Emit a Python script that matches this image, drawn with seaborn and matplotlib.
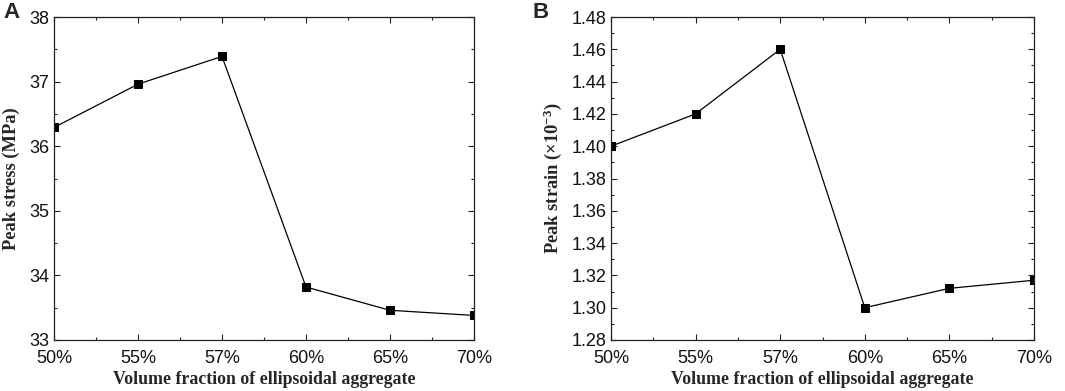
import matplotlib
matplotlib.use("Agg")
import matplotlib.pyplot as plt
import seaborn as sns
import pandas as pd
from matplotlib.ticker import MultipleLocator, FixedLocator

# ---- data ----
fractions = ["50%", "55%", "57%", "60%", "65%", "70%"]
peak_stress = [36.29, 36.96, 37.39, 33.82, 33.46, 33.38]
peak_strain = [1.400, 1.420, 1.460, 1.300, 1.312, 1.317]

xlabel = "Volume fraction of ellipsoidal aggregate"
ylabel_a = "Peak stress (MPa)"
ylabel_b = "Peak strain (×10$^{-3}$)"

sns.set_style("ticks")
plt.rcParams["font.family"] = ["Liberation Sans", "DejaVu Sans"]
plt.rcParams["mathtext.default"] = "regular"

fig = plt.figure(figsize=(10.65, 3.91), dpi=100)
W, H = 1065, 391
axA = fig.add_axes([54 / W, 1 - 340 / H, (474 - 54) / W, (340 - 17) / H])
axB = fig.add_axes([611 / W, 1 - 340 / H, (1034 - 611) / W, (340 - 17) / H])

dfA = pd.DataFrame({"x": fractions, "y": peak_stress})
dfB = pd.DataFrame({"x": fractions, "y": peak_strain})

serif_x = {"family": ["Liberation Serif", "DejaVu Serif"], "weight": "bold", "size": 12.8}
serif_y = {"family": ["Liberation Serif", "DejaVu Serif"], "weight": "bold", "size": 13.3}

for ax, df, ylab, ylim, ymaj, ymin, fmt in [
    (axA, dfA, ylabel_a, (33, 38), 1, 0.5, "{:.0f}"),
    (axB, dfB, ylabel_b, (1.28, 1.48), 0.02, 0.01, "{:.2f}"),
]:
    sns.lineplot(data=df, x="x", y="y", ax=ax, color="black", linewidth=0.9,
                 marker="s", markersize=6, markeredgecolor="black",
                 markerfacecolor="black", sort=False)
    ax.set_xlim(0, len(fractions) - 1)
    ax.set_ylim(*ylim)
    ax.xaxis.set_major_locator(FixedLocator(range(len(fractions))))
    ax.set_xticklabels(fractions)
    ax.xaxis.set_minor_locator(MultipleLocator(0.5))
    ax.yaxis.set_major_locator(MultipleLocator(ymaj))
    ax.yaxis.set_minor_locator(MultipleLocator(ymin))
    ax.set_yticks(ax.get_yticks())
    ax.set_yticklabels([fmt.format(v) for v in ax.get_yticks()])
    ax.set_ylim(*ylim)
    ax.tick_params(which="both", direction="in", top=True, right=True,
                   width=0.8, color="#222222")
    ax.tick_params(which="major", length=4, labelsize=13, labelcolor="#111111")
    ax.tick_params(which="minor", length=2.2)
    ax.tick_params(axis="x", which="major", pad=7)
    ax.tick_params(axis="y", which="major", pad=3.5)
    for s in ax.spines.values():
        s.set_linewidth(0.9)
        s.set_color("#222222")
        s.set_visible(True)
    ax.set_xlabel(xlabel, fontdict=serif_x, labelpad=3)
    ax.set_ylabel(ylab, fontdict=serif_y)

axA.yaxis.set_label_coords(-0.080, 0.5)
axB.yaxis.set_label_coords(-0.112, 0.5)

fig.text(3 / W, 1 - 18 / H, "A", fontsize=16, weight="bold", va="baseline")
fig.text(532 / W, 1 - 18 / H, "B", fontsize=16, weight="bold", va="baseline")

fig.savefig("out.png", dpi=100)
